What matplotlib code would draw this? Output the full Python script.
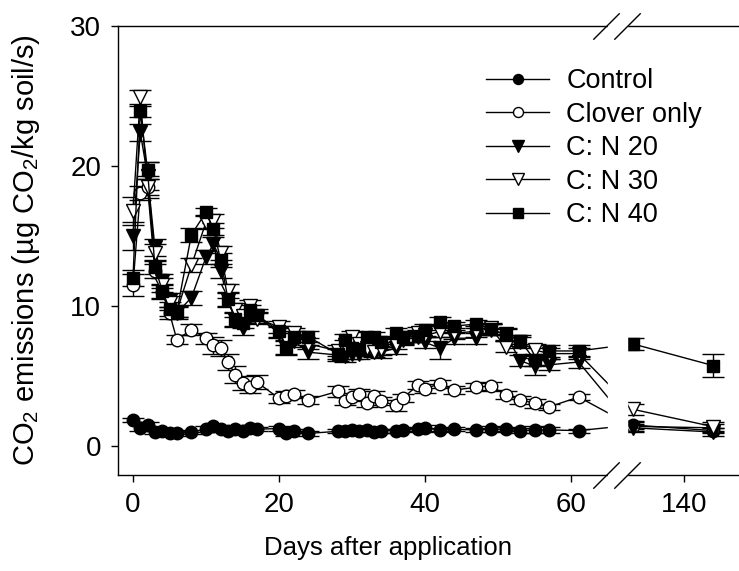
#!/usr/bin/env python3
"""
CO2 emissions after clover / N application (broken x axis)
"""

import numpy as np
import matplotlib
matplotlib.use("Agg")
import matplotlib.pyplot as plt

plt.rcParams['font.family'] = ['Liberation Sans', 'DejaVu Sans']
plt.rcParams['mathtext.fontset'] = 'custom'
plt.rcParams['mathtext.rm'] = 'Liberation Sans'
plt.rcParams['mathtext.it'] = 'Liberation Sans:italic'
plt.rcParams['mathtext.default'] = 'regular'

# sampling days (last two are after the axis break)
days = [0, 1, 2, 3, 4, 5, 6, 8, 10, 11, 12, 13, 14, 15, 16, 17, 20, 21, 22, 24,
        28, 29, 30, 31, 32, 33, 34, 36, 37, 39, 40, 42, 44, 47, 49, 51, 53, 55, 57, 61,
        133, 144]

control = [1.86, 1.3, 1.5, 1.0, 1.1, 0.9, 0.9, 1.0, 1.2, 1.4, 1.25, 1.05, 1.2, 1.05, 1.3, 1.2,
           1.25, 0.9, 1.1, 0.9, 1.05, 1.05, 1.15, 1.1, 1.14, 1.0, 1.1, 1.1, 1.14, 1.2, 1.3, 1.14,
           1.2, 1.14, 1.2, 1.2, 1.1, 1.15, 1.15, 1.1, 1.5, 1.1]
control_err = [0.15, 0.2, 0.2, 0.15, 0.15, 0.15, 0.15, 0.15, 0.2, 0.2, 0.15, 0.15, 0.15, 0.15, 0.2, 0.15,
               0.15, 0.15, 0.15, 0.15, 0.15, 0.15, 0.15, 0.15, 0.15, 0.15, 0.15, 0.15, 0.15, 0.15, 0.2, 0.15,
               0.15, 0.15, 0.2, 0.15, 0.2, 0.25, 0.2, 0.15, 0.3, 0.2]

clover = [11.5, 18.1, 18.5, 12.5, 11.0, 9.5, 7.6, 8.3, 7.7, 7.2, 7.0, 6.0, 5.1, 4.5, 4.2, 4.55,
          3.4, 3.6, 3.7, 3.3, 3.9, 3.2, 3.5, 3.75, 3.1, 3.6, 3.2, 2.9, 3.45, 4.35, 4.1, 4.45,
          4.0, 4.2, 4.3, 3.65, 3.3, 3.05, 2.8, 3.5, 1.4, 1.3]
clover_err = [0.8, 0.5, 0.6, 0.5, 0.5, 0.4, 0.3, 0.4, 0.4, 0.6, 0.6, 0.6, 0.6, 0.5, 0.4, 0.5,
              0.3, 0.3, 0.3, 0.3, 0.4, 0.3, 0.3, 0.3, 0.3, 0.3, 0.3, 0.4, 0.3, 0.3, 0.3, 0.3,
              0.3, 0.3, 0.3, 0.3, 0.3, 0.3, 0.2, 0.2, 0.3, 0.3]

cn20 = [15.0, 22.4, 19.3, 14.2, 11.8, 10.4, 9.5, 10.6, 13.5, 14.4, 12.5, 10.4, 9.0, 8.4, 9.3, 9.2,
        8.1, 7.0, 7.5, 6.7, 6.5, 6.4, 6.6, 6.6, 6.8, 6.9, 6.7, 7.0, 7.6, 7.8, 7.4, 7.0,
        7.7, 7.7, 8.3, 8.0, 6.1, 5.7, 5.8, 6.0, 1.3, 1.0]
cn20_err = [1.0, 0.6, 1.0, 0.6, 0.5, 0.5, 0.4, 0.5, 0.5, 0.5, 0.5, 0.5, 0.5, 0.5, 0.4, 0.4,
            0.4, 0.5, 0.4, 0.5, 0.4, 0.4, 0.4, 0.4, 0.4, 0.4, 0.4, 0.4, 0.4, 0.4, 0.4, 0.8,
            0.4, 0.4, 0.4, 0.4, 0.4, 0.6, 0.4, 0.4, 0.3, 0.3]

cn30 = [16.8, 24.9, 18.5, 13.8, 11.5, 10.2, 9.6, 12.9, 16.0, 16.1, 13.8, 11.1, 9.7, 9.3, 10.0, 9.1,
        8.5, 7.6, 8.05, 7.3, 6.8, 7.2, 7.8, 7.3, 7.0, 6.74, 6.9, 7.3, 7.7, 8.1, 7.9, 8.17,
        8.05, 8.2, 8.4, 7.1, 7.4, 6.86, 6.6, 6.6, 2.62, 1.38]
cn30_err = [1.0, 0.5, 0.8, 0.6, 0.5, 0.5, 0.4, 0.5, 0.5, 0.5, 0.5, 0.5, 0.5, 0.4, 0.4, 0.4,
            0.4, 0.4, 0.4, 0.4, 0.4, 0.4, 0.4, 0.4, 0.4, 0.4, 0.4, 0.4, 0.4, 0.4, 0.4, 0.4,
            0.4, 0.4, 0.4, 0.4, 0.4, 0.4, 0.4, 0.4, 0.4, 0.3]

cn40 = [12.0, 23.9, 19.7, 12.8, 11.1, 9.8, 9.6, 15.1, 16.7, 15.5, 13.3, 10.5, 9.1, 8.8, 9.7, 9.36,
        8.2, 7.1, 7.8, 7.8, 6.6, 7.6, 7.0, 6.9, 7.76, 7.76, 7.45, 8.05, 7.76, 7.86, 8.29, 8.88,
        8.57, 8.71, 8.33, 7.93, 7.52, 6.14, 6.79, 6.79, 7.29, 5.74]
cn40_err = [0.6, 0.4, 0.6, 0.5, 0.5, 0.5, 0.4, 0.5, 0.3, 0.4, 0.5, 0.5, 0.5, 0.4, 0.4, 0.4,
            0.4, 0.5, 0.4, 0.4, 0.4, 0.4, 0.4, 0.4, 0.4, 0.4, 0.4, 0.4, 0.4, 0.4, 0.4, 0.3,
            0.3, 0.3, 0.4, 0.4, 0.4, 0.4, 0.4, 0.4, 0.4, 0.8]

labels = ['Control', 'Clover only', 'C: N 20', 'C: N 30', 'C: N 40']
x_ticks = [0, 20, 40, 60, 140]

# axis break: days between B1 and B2 are squeezed into a small gap
B1, B2, GAP = 65.0, 132.15, 2.6


def fwd(x):
    x = np.asarray(x, dtype=float)
    return np.where(x <= B1, x,
                    np.where(x >= B2, x - (B2 - B1 - GAP),
                             B1 + (x - B1) * GAP / (B2 - B1)))


def inv(t):
    t = np.asarray(t, dtype=float)
    return np.where(t <= B1, t,
                    np.where(t >= B1 + GAP, t + (B2 - B1 - GAP),
                             B1 + (t - B1) * (B2 - B1) / GAP))


def main():
    fig = plt.figure(figsize=(7.39, 5.71), dpi=100)
    ax = fig.add_axes([118 / 739, 96 / 571, 621 / 739, 449 / 571])
    ax.set_xscale('function', functions=(fwd, inv))

    series = [
        (control, control_err, dict(marker='o', mfc='black', ms=9)),
        (clover, clover_err, dict(marker='o', mfc='white', ms=9)),
        (cn20, cn20_err, dict(marker='v', mfc='black', ms=10)),
        (cn30, cn30_err, dict(marker='v', mfc='white', ms=10)),
        (cn40, cn40_err, dict(marker='s', mfc='black', ms=8.5)),
    ]
    handles = []
    for i, (vals, err, style) in enumerate(series):
        cont = ax.errorbar(days, vals, yerr=err, color='black', lw=1.0, elinewidth=1.0,
                           capsize=8, capthick=1.3, mec='black', mew=1.0,
                           label=labels[i], zorder=2 + i * 0.01, **style)
        handles.append(cont[0])

    # hide the lines inside the break and the spine gap
    ax.axvspan(B1, B2, ymin=-0.03, ymax=1.03, color='white', zorder=3, clip_on=False)
    for xb in [B1 - 0.3, B2]:
        for yb in [0, 1]:
            ax.plot([xb], [yb], marker=[(-1, -1), (1, 1)], ms=19, mew=1.0,
                    color='black', transform=ax.get_xaxis_transform(),
                    clip_on=False, zorder=4)

    ax.set_xlim(-2.05, 147.5)
    ax.set_ylim(-2.07, 30)
    ax.set_xticks(x_ticks)
    ax.set_xticklabels([str(t) for t in x_ticks])
    ax.set_yticks([0, 10, 20, 30])
    ax.minorticks_off()

    ax.spines['right'].set_visible(False)
    for s in ['left', 'top', 'bottom']:
        ax.spines[s].set_linewidth(1.0)
    ax.tick_params(direction='out', length=5, width=1, labelsize=20, pad=7)

    ax.set_xlabel('Days after application', fontsize=18.5)
    ax.set_ylabel('CO$_2$ emissions (µg CO$_2$/kg soil/s)', fontsize=21)
    ax.xaxis.set_label_coords(0.435, -0.135)
    ax.yaxis.set_label_coords(-0.122, 0.5)

    ax.legend(handles, labels, loc='upper left', bbox_to_anchor=(0.5926, 0.9065),
              frameon=False, fontsize=19.5, borderpad=0, borderaxespad=0,
              handlelength=2.33, handletextpad=0.63, labelspacing=0.28,
              markerscale=0.8)

    plt.savefig("out.png", dpi=100)


if __name__ == "__main__":
    main()
